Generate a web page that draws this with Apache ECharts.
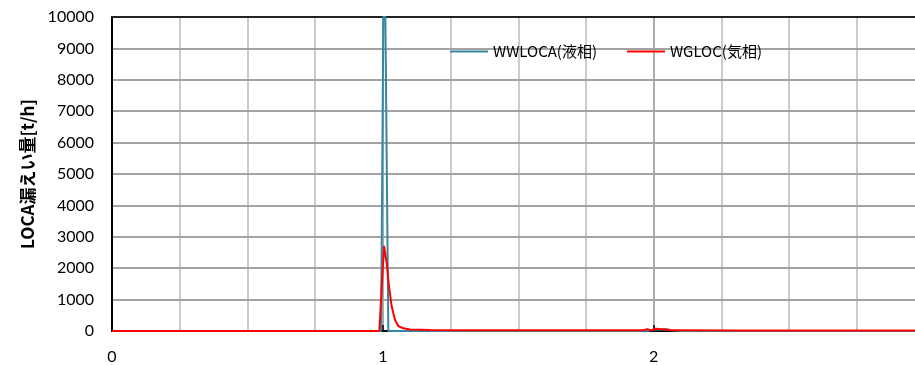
<!DOCTYPE html>
<html>
<head>
<meta charset="utf-8">
<script src="https://cdn.jsdelivr.net/npm/echarts@6/dist/echarts.min.js"></script>
<style>
  html, body { margin: 0; padding: 0; background: #fff; }
  #chart { width: 915px; height: 365px; }
</style>
</head>
<body>
<div id="chart"></div>
<script>
// Leak flow rate after the LOCA break, time on x
const seriesNames = ['WWLOCA(液相)', 'WGLOC(気相)'];
const yTitle = 'LOCA漏えい量[t/h]';

// liquid-phase leak (WWLOCA)
const wwTime  = [0, 0.9934, 1.0052, 1.0203, 1.2, 1.5, 1.97, 1.99, 2.0, 2.02, 2.05, 2.07, 2.1, 2.5, 3.0];
const wwValue = [0, 0, 13800, 0, 0, 0, 0, 25, 45, 55, 45, 20, 0, 0, 0];

// gas-phase leak (WGLOC)
const wgTime  = [0, 0.5, 0.987, 1.0044, 1.0144, 1.0229, 1.0329, 1.045, 1.057, 1.0757, 1.1, 1.174, 1.3, 1.6,
                 1.96, 1.975, 1.985, 1.995, 2.005, 2.02, 2.04, 2.06, 2.08, 2.3, 2.6, 3.0];
const wgValue = [0, 0, 0, 2710, 2150, 1410, 770, 350, 160, 85, 50, 35, 25, 20,
                 20, 60, 40, 25, 75, 65, 55, 35, 20, 15, 15, 15];

const yMin = 0, yMax = 10000, yStep = 1000;
const xMin = 0, xMax = 3, xStep = 1;

const pairs = (t, v) => t.map((x, i) => [x, v[i]]);

const chart = echarts.init(document.getElementById('chart'), null, { renderer: 'canvas' });
chart.setOption({
  animation: false,
  backgroundColor: '#ffffff',
  // plot runs past the right edge of the canvas
  grid: { left: 112, top: 17, width: 812.5, bottom: 34, containLabel: false, outerBoundsMode: 'none' },
  legend: {
    data: seriesNames,
    left: 450, top: 44, padding: 0,
    icon: 'rect', itemWidth: 38, itemHeight: 2, itemGap: 30,
    textStyle: { fontFamily: 'Noto Sans CJK JP', fontSize: 15, color: '#000' }
  },
  xAxis: [{
    type: 'value', min: xMin, max: xMax, interval: xStep, z: 1,
    axisLine: { show: true, onZero: false, lineStyle: { color: '#000', width: 2 } },
    axisTick: { show: true, inside: true, length: 6, lineStyle: { color: '#000', width: 1.5 } },
    axisLabel: { show: true, showMaxLabel: false, margin: 18, color: '#000',
                 fontFamily: 'Lato', fontSize: 16 },
    splitLine: { show: true, showMinLine: false, showMaxLine: false,
                 lineStyle: { color: '#8f8f8f', width: 1.5 } },
    minorTick: { show: false, splitNumber: 4 },
    minorSplitLine: { show: true, lineStyle: { color: '#cccccc', width: 2 } }
  }, {
    type: 'value', position: 'top', min: xMin, max: xMax, interval: xStep, z: 3,
    axisLine: { show: true, onZero: false, lineStyle: { color: '#222', width: 2 } },
    axisTick: { show: false }, axisLabel: { show: false }, splitLine: { show: false }
  }],
  yAxis: {
    type: 'value', min: yMin, max: yMax, interval: yStep, z: 2,
    name: yTitle, nameLocation: 'middle', nameRotate: 90, nameGap: 76,
    nameTextStyle: { fontFamily: 'Noto Sans CJK JP', fontWeight: 'bold', fontSize: 17, color: '#000' },
    axisLine: { show: true, onZero: false, lineStyle: { color: '#000', width: 2 } },
    axisTick: { show: false },
    axisLabel: { margin: 18, color: '#000', fontFamily: 'Lato', fontSize: 16,
                 formatter: v => String(v) },
    splitLine: { show: true, showMinLine: false, showMaxLine: false,
                 lineStyle: { color: '#a3a3a3', width: 2 } }
  },
  series: [{
    name: seriesNames[0], type: 'line', xAxisIndex: 0,
    data: pairs(wwTime, wwValue), symbol: 'none', z: 4,
    lineStyle: { color: '#3489a2', width: 2 }, itemStyle: { color: '#3489a2' }
  }, {
    name: seriesNames[1], type: 'line', xAxisIndex: 0,
    data: pairs(wgTime, wgValue), symbol: 'none', z: 5,
    lineStyle: { color: '#ff0000', width: 2 }, itemStyle: { color: '#ff0000' }
  }]
});
</script>
</body>
</html>
